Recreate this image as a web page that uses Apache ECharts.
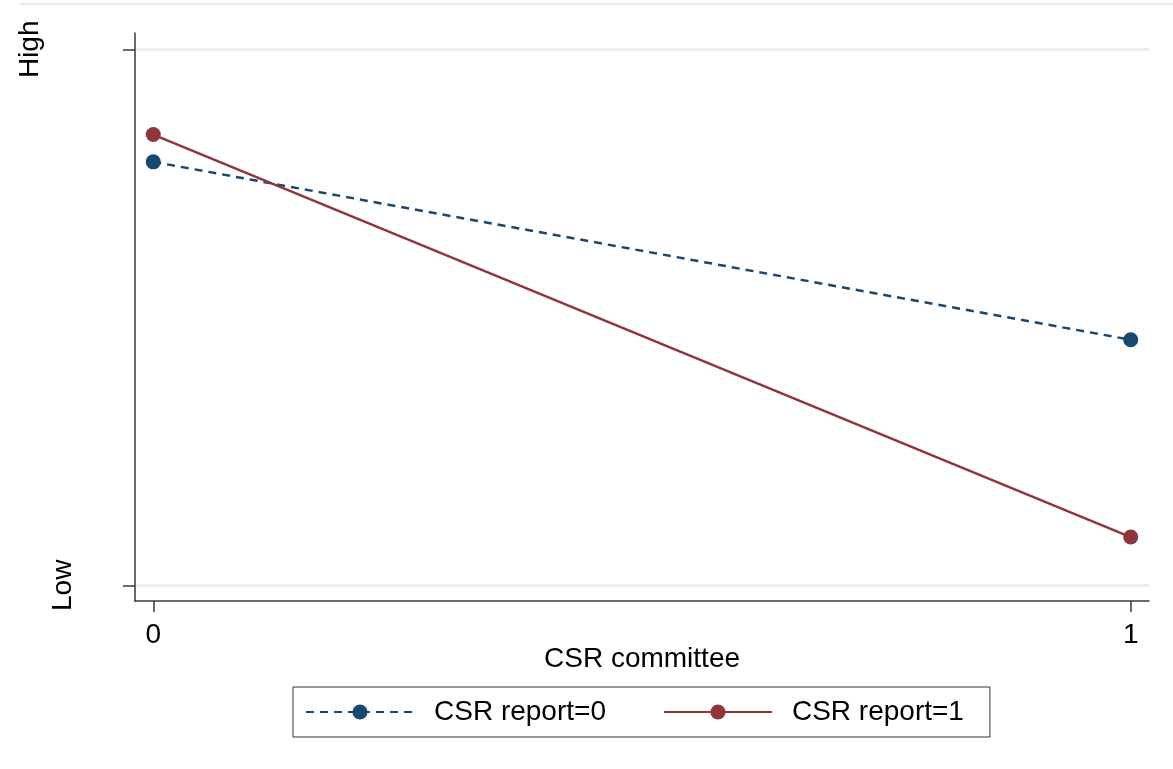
<!DOCTYPE html>
<html>
<head>
<meta charset="utf-8">
<title>CSR committee × CSR report</title>
<script src="https://cdn.jsdelivr.net/npm/echarts@6/dist/echarts.min.js"></script>
<style>
  html, body { margin: 0; padding: 0; background: #ffffff; }
  #chart { width: 1173px; height: 769px; }
</style>
</head>
<body>
<div id="chart"></div>
<script>
// Predicted margins at CSR committee = 0 / 1, by CSR report group
const committeeValues = [0, 1];
const seriesNames = ['CSR report=0', 'CSR report=1'];
const report0 = [0.790, 0.458];
const report1 = [0.841, 0.090];

// y-axis ticks: scale ends labelled Low / High
const yTickValues = [0, 1];
const yTickLabels = ['Low', 'High'];

const navy = '#1a476f';
const maroon = '#90353b';
const font = '"Liberation Sans", Arial, Helvetica, sans-serif';

function pairs(values) {
  return committeeValues.map((x, i) => [x, values[i]]);
}

const chart = echarts.init(document.getElementById('chart'), null, { renderer: 'canvas' });

chart.setOption({
  backgroundColor: '#ffffff',
  animation: false,
  textStyle: { fontFamily: font },
  graphic: [{
    type: 'line',
    shape: { x1: 20, y1: 4, x2: 1173, y2: 4 },
    style: { stroke: '#e6edf1', lineWidth: 2 },
    silent: true
  }],
  grid: { left: 135, right: 24, top: 33, bottom: 168, containLabel: false },
  xAxis: {
    type: 'value',
    min: -0.0187,
    max: 1.0187,
    name: 'CSR committee',
    nameLocation: 'middle',
    nameGap: 44,
    nameMoveOverlap: false,
    nameTextStyle: { fontSize: 28, color: '#000000', fontFamily: font },
    axisLine: { show: true, onZero: false, lineStyle: { color: '#3a3a3a', width: 1.5 } },
    axisTick: { show: true, length: 11, customValues: committeeValues, lineStyle: { color: '#3a3a3a', width: 1.5 } },
    axisLabel: { customValues: committeeValues, fontSize: 28, color: '#000000', margin: 20, fontFamily: font },
    splitLine: { show: false }
  },
  yAxis: {
    type: 'value',
    min: -0.0293,
    max: 1.0304,
    axisLine: { show: true, onZero: false, lineStyle: { color: '#3a3a3a', width: 1.5 } },
    axisTick: { show: true, length: 12, customValues: yTickValues, lineStyle: { color: '#3a3a3a', width: 1.5 } },
    axisLabel: {
      customValues: yTickValues,
      rotate: 90,
      margin: 58,
      fontSize: 28,
      color: '#000000',
      fontFamily: font,
      formatter: function (v) {
        const i = yTickValues.indexOf(v);
        const txt = i >= 0 ? yTickLabels[i] : '';
        return i === 1 ? '{hi|' + txt + '}' : '{lo|' + txt + '}';
      },
      rich: {
        hi: { fontSize: 28, color: '#000000', fontFamily: font, padding: [0, 0, 33, 0] },
        lo: { fontSize: 28, color: '#000000', fontFamily: font }
      }
    },
    splitLine: { show: true, lineStyle: { color: '#e6edf0', width: 2.5 } }
  },
  legend: {
    left: 293,
    top: 687,
    orient: 'horizontal',
    borderColor: '#333333',
    borderWidth: 1,
    padding: [11, 26, 11, 12],
    itemGap: 57,
    itemWidth: 108,
    itemHeight: 19,
    textStyle: { fontSize: 28, color: '#000000', fontFamily: font, padding: [0, 0, 0, 15] },
    data: seriesNames
  },
  series: [
    {
      name: seriesNames[0],
      type: 'line',
      data: pairs(report0),
      symbol: 'circle',
      symbolSize: 15,
      itemStyle: { color: navy },
      lineStyle: { color: navy, width: 2.5, type: [8, 6] },
      z: 3
    },
    {
      name: seriesNames[1],
      type: 'line',
      data: pairs(report1),
      symbol: 'circle',
      symbolSize: 15,
      itemStyle: { color: maroon },
      lineStyle: { color: maroon, width: 2.4, type: 'solid' },
      z: 4
    }
  ]
});
</script>
</body>
</html>
